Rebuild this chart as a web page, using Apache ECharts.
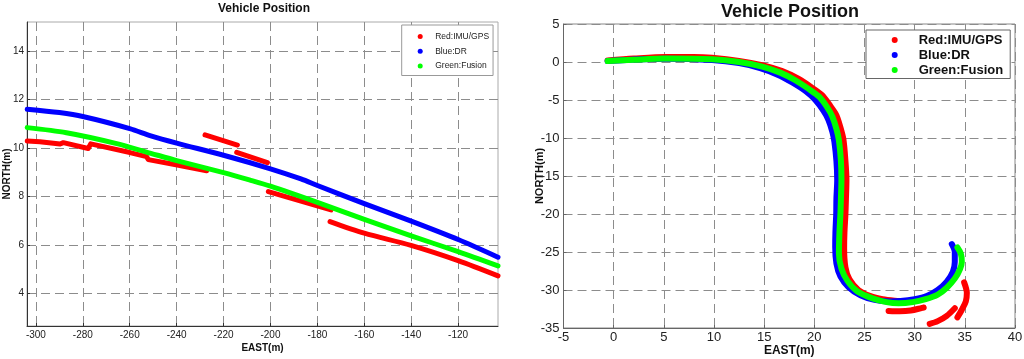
<!DOCTYPE html>
<html>
<head>
<meta charset="utf-8">
<script src="https://cdn.jsdelivr.net/npm/echarts@6/dist/echarts.min.js"></script>
<style>
html,body{margin:0;padding:0;background:#fff;}
#c{width:1024px;height:359px;}
</style>
</head>
<body>
<div id="c"></div>
<script>
// ---------- Left panel data (EAST, NORTH) ----------
const leftXTicks = [-300, -280, -260, -240, -220, -200, -180, -160, -140, -120];
const leftYTicks = [4, 6, 8, 10, 12, 14];
const leftBlue = [[-303.7,11.60],[-290,11.46],[-280,11.30],[-260,10.80],[-251,10.50],[-240,10.20],[-220,9.70],[-200,9.14],[-187,8.72],[-180,8.45],[-160,7.70],[-140,6.98],[-120,6.22],[-103,5.49]];
const leftGreen = [[-303.7,10.84],[-287,10.63],[-266,10.19],[-251,9.78],[-240,9.48],[-220,8.98],[-209,8.68],[-200,8.42],[-180,7.75],[-160,7.05],[-140,6.37],[-120,5.72],[-103,5.13]];
const leftRed1 = [[-303.7,10.29],[-298.3,10.26],[-289.7,10.16],[-288.3,10.22],[-277.7,9.98],[-276.6,10.17],[-259.9,9.81],[-252.8,9.64],[-252.1,9.52],[-241.4,9.33],[-227.2,9.06]];
const leftRed2 = [[-227.9,10.54],[-214.1,10.12]];
const leftRed3 = [[-214.4,9.82],[-201.3,9.39]];
const leftRed4 = [[-200.9,8.20],[-174.2,7.44]];
const leftRed5 = [[-174.6,6.96],[-160,6.48],[-140.1,5.98],[-120,5.35],[-103,4.72]];

// ---------- Right panel data (EAST, NORTH) ----------
const rightXTicks = [-5, 0, 5, 10, 15, 20, 25, 30, 35, 40];
const rightYTicks = [-35, -30, -25, -20, -15, -10, -5, 0, 5];
const rightRed1 = [[-0.6,0.2],[2,0.45],[5.2,0.65],[8,0.65],[9.8,0.55],[12.5,0.15],[14.9,-0.45],[16.8,-1.2],[18.4,-2.2],[19.8,-3.4],[20.8,-4.4],[21.6,-5.8],[22.2,-7.0],[22.6,-8.6],[22.9,-10.2],[23.1,-13],[23.2,-15.5],[23.15,-18],[23.1,-20],[23.0,-22.5],[22.97,-24.5],[23.1,-27.0],[23.5,-28.6],[24.4,-30.0],[25.6,-30.8],[26.8,-31.2],[28.0,-31.4],[28.7,-31.45]];
const rightRed2 = [[27.4,-32.75],[28.5,-32.8],[29.6,-32.7],[30.9,-32.3]];
const rightRed3 = [[31.5,-34.47],[32.3,-34.1],[33.2,-33.4],[34.0,-32.4]];
const rightRed4 = [[34.26,-33.6],[34.7,-32.6],[35.1,-31.5],[35.2,-30.4],[34.93,-29.0]];
const rightBlue = [[-0.6,0.13],[5.2,0.42],[9.8,0.25],[12.5,-0.15],[14.6,-0.8],[16.4,-1.7],[17.8,-2.7],[19.2,-3.9],[20.1,-5.0],[20.9,-6.4],[21.4,-7.6],[21.8,-9.2],[22.0,-10.5],[22.2,-13],[22.28,-15.5],[22.2,-18],[22.18,-20],[22.1,-22.5],[22.08,-24.3],[22.2,-26.5],[22.6,-28.2],[23.4,-29.6],[24.6,-30.7],[26.0,-31.3],[27.5,-31.5],[28.6,-31.45],[30.0,-31.2],[31.2,-30.8],[32.3,-30.0],[33.2,-28.9],[33.8,-27.6],[34.0,-26.3],[34.0,-25.0],[33.7,-23.95]];
const rightGreen = [[-0.6,0.13],[2,0.3],[5.2,0.45],[9.8,0.35],[12.5,0.0],[14.8,-0.6],[16.6,-1.4],[18.1,-2.4],[19.5,-3.6],[20.5,-4.6],[21.3,-6.0],[21.8,-7.2],[22.2,-8.8],[22.45,-10.3],[22.65,-13],[22.7,-15.5],[22.65,-18],[22.6,-20],[22.5,-22.5],[22.45,-25.2],[22.7,-27.2],[23.3,-28.8],[24.3,-30.2],[25.8,-31.1],[27.2,-31.6],[28.4,-31.75],[29.8,-31.6],[31.1,-31.2],[32.3,-30.6],[33.2,-29.7],[34.0,-28.5],[34.5,-27.3],[34.7,-26.3],[34.6,-25.2],[34.26,-24.4]];

const NAMES = ['Red:IMU/GPS', 'Blue:DR', 'Green:Fusion'];
const COLORS = {'Red:IMU/GPS': '#ff0000', 'Blue:DR': '#0000ff', 'Green:Fusion': '#00ff00'};
const FONT = 'Liberation Sans, Arial, sans-serif';

function line(name, data, idx, w, smooth) {
  return {
    type: 'line', name: name, data: data,
    xAxisIndex: idx, yAxisIndex: idx,
    showSymbol: false, symbol: 'circle', symbolSize: 5,
    smooth: smooth || false,
    color: COLORS[name],
    lineStyle: {width: w, color: COLORS[name], cap: 'round', join: 'round'},
    itemStyle: {color: COLORS[name]},
    animation: false, silent: true, z: 3
  };
}

function valueAxis(opts) {
  return Object.assign({
    type: 'value',
    nameLocation: 'middle',
    nameMoveOverlap: false,
    nameTextStyle: {fontFamily: FONT, fontWeight: 'bold', color: '#111'},
    axisLine: {show: true, onZero: false, lineStyle: {color: '#333', width: 1}},
    axisTick: {show: true, inside: true, length: 3, lineStyle: {color: '#333'}},
    splitLine: {show: true, lineStyle: {color: '#8c8c8c', type: [9, 5], width: 1}},
    axisLabel: {fontFamily: FONT, color: '#222'}
  }, opts);
}

const option = {
  backgroundColor: '#ffffff',
  animation: false,
  title: [
    {text: 'Vehicle Position', left: 259, top: -2, textAlign: 'center',
     textStyle: {fontFamily: FONT, fontSize: 12, fontWeight: 'bold', color: '#111'}},
    {text: 'Vehicle Position', left: 785, top: -2, textAlign: 'center',
     textStyle: {fontFamily: FONT, fontSize: 18, fontWeight: 'bold', color: '#111'}}
  ],
  legend: [
    {
      data: NAMES, orient: 'vertical', left: 401.7, top: 25,
      padding: [4.5, 4, 2.6, 16], itemGap: 0.7, itemWidth: 20, itemHeight: 5,
      icon: 'circle', backgroundColor: '#fff', borderColor: '#999', borderWidth: 1,
      textStyle: {fontFamily: FONT, fontSize: 8.5, color: '#222', lineHeight: 14}
    },
    {
      data: NAMES, orient: 'vertical', left: 866, top: 30,
      padding: [2.5, 7, 1, 25.7], itemGap: 0, itemWidth: 38, itemHeight: 6,
      icon: 'circle', backgroundColor: '#fff', borderColor: '#666', borderWidth: 1,
      textStyle: {fontFamily: FONT, fontSize: 13, fontWeight: 'bold', color: '#111', lineHeight: 15}
    }
  ],
  grid: [
    {left: 27, right: 526, top: 22, bottom: 33, show: true, borderColor: '#aaa', borderWidth: 1, containLabel: false, outerBoundsMode: 'none'},
    {left: 563.5, right: 9, top: 24, bottom: 31, show: true, borderColor: '#888', borderWidth: 1, containLabel: false, outerBoundsMode: 'none'}
  ],
  xAxis: [
    valueAxis({
      gridIndex: 0, min: -303.8, max: -103, name: 'EAST(m)', nameGap: 17,
      nameTextStyle: {fontFamily: FONT, fontWeight: 'bold', fontSize: 10, color: '#111'},
      axisLabel: {fontFamily: FONT, fontSize: 10, color: '#222', margin: 4, customValues: leftXTicks},
      axisTick: {show: true, inside: true, length: 3, lineStyle: {color: '#333'}, customValues: leftXTicks}
    }),
    valueAxis({
      gridIndex: 1, min: -5, max: 40, interval: 5, name: 'EAST(m)', nameGap: 17,
      nameTextStyle: {fontFamily: FONT, fontWeight: 'bold', fontSize: 12, color: '#111'},
      axisLine: {show: true, onZero: false, lineStyle: {color: '#666', width: 1}},
      axisLabel: {fontFamily: FONT, fontSize: 13, color: '#222', margin: 3, customValues: rightXTicks},
      axisTick: {show: true, inside: true, length: 3, lineStyle: {color: '#666'}, customValues: rightXTicks}
    })
  ],
  yAxis: [
    valueAxis({
      gridIndex: 0, min: 2.65, max: 15.2, name: 'NORTH(m)', nameGap: 14.5,
      nameTextStyle: {fontFamily: FONT, fontWeight: 'bold', fontSize: 10, color: '#111'},
      axisLabel: {fontFamily: FONT, fontSize: 10, color: '#222', margin: 3, customValues: leftYTicks},
      axisTick: {show: true, inside: true, length: 3, lineStyle: {color: '#333'}, customValues: leftYTicks}
    }),
    valueAxis({
      gridIndex: 1, min: -35, max: 5, interval: 5, name: 'NORTH(m)', nameGap: 18,
      nameTextStyle: {fontFamily: FONT, fontWeight: 'bold', fontSize: 11, color: '#111'},
      axisLine: {show: true, onZero: false, lineStyle: {color: '#666', width: 1}},
      axisLabel: {fontFamily: FONT, fontSize: 13, color: '#222', margin: 4, customValues: rightYTicks},
      axisTick: {show: true, inside: true, length: 3, lineStyle: {color: '#666'}, customValues: rightYTicks}
    })
  ],
  series: [
    line(NAMES[0], leftRed1, 0, 5),
    line(NAMES[0], leftRed2, 0, 5),
    line(NAMES[0], leftRed3, 0, 5),
    line(NAMES[0], leftRed4, 0, 5),
    line(NAMES[0], leftRed5, 0, 5, 0.3),
    line(NAMES[1], leftBlue, 0, 5, 0.3),
    line(NAMES[2], leftGreen, 0, 5, 0.3),
    line(NAMES[0], rightRed1, 1, 6, 0.3),
    line(NAMES[0], rightRed2, 1, 6, 0.3),
    line(NAMES[0], rightRed3, 1, 6, 0.3),
    line(NAMES[0], rightRed4, 1, 6, 0.3),
    line(NAMES[1], rightBlue, 1, 6, 0.3),
    line(NAMES[2], rightGreen, 1, 6, 0.3)
  ]
};

const chart = echarts.init(document.getElementById('c'), null, {renderer: 'canvas', width: 1024, height: 359});
chart.setOption(option);
</script>
</body>
</html>
